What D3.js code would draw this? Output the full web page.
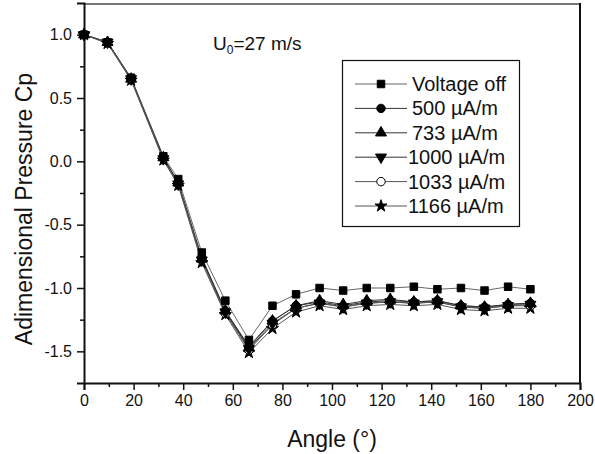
<!DOCTYPE html>
<html>
<head>
<meta charset="utf-8">
<script src="https://cdn.jsdelivr.net/npm/d3@7"></script>
<style>
  body { margin: 0; background: #fff; }
  text { font-family: "Liberation Sans", Arial, sans-serif; fill: #111; }
</style>
</head>
<body>
<div id="chart"></div>
<script>
const angles = [0, 9.5, 19, 32, 38, 47.5, 57, 66.5, 76, 85.5, 95, 104.5, 114, 123.5, 133, 142.5, 152, 161.5, 171, 180];

const voltageOff = [1.0, 0.94, 0.66, 0.04, -0.14, -0.72, -1.10, -1.41, -1.14, -1.05, -1.00, -1.02, -1.00, -1.00, -0.99, -1.01, -1.00, -1.02, -0.99, -1.01];
const cp500  = [1.0, 0.94, 0.65, 0.03, -0.17, -0.76, -1.18, -1.46, -1.26, -1.14, -1.11, -1.14, -1.11, -1.10, -1.11, -1.10, -1.14, -1.15, -1.13, -1.12];
const cp733  = [1.0, 0.94, 0.65, 0.03, -0.17, -0.77, -1.18, -1.47, -1.26, -1.14, -1.10, -1.13, -1.10, -1.09, -1.11, -1.10, -1.14, -1.15, -1.13, -1.12];
const cp1000 = [1.0, 0.94, 0.65, 0.02, -0.18, -0.78, -1.19, -1.48, -1.28, -1.16, -1.12, -1.15, -1.12, -1.11, -1.12, -1.11, -1.15, -1.16, -1.14, -1.13];
const cp1033 = [1.0, 0.94, 0.65, 0.02, -0.18, -0.78, -1.20, -1.49, -1.29, -1.16, -1.12, -1.15, -1.12, -1.11, -1.12, -1.11, -1.15, -1.16, -1.14, -1.14];
const cp1166 = [1.0, 0.93, 0.64, 0.01, -0.19, -0.80, -1.21, -1.51, -1.32, -1.19, -1.14, -1.17, -1.14, -1.13, -1.14, -1.13, -1.17, -1.18, -1.16, -1.16];

const seriesNames = ["Voltage off", "500 \u00b5A/m", "733 \u00b5A/m", "1000 \u00b5A/m", "1033 \u00b5A/m", "1166 \u00b5A/m"];
const xTicks = [0, 20, 40, 60, 80, 100, 120, 140, 160, 180, 200];
const yTicks = [-1.5, -1.0, -0.5, 0.0, 0.5, 1.0];

const width = 595, height = 454;
const plotL = 84, plotR = 580, plotT = 3, plotB = 383;

const svg = d3.select("#chart").append("svg")
  .attr("width", width).attr("height", height);

const x = d3.scaleLinear().domain([0, 200]).range([plotL, plotR]);
const y = d3.scaleLinear().domain([-1.75, 1.25]).range([plotB, plotT]);

// frame: top grey, right black
svg.append("line").attr("x1", plotL).attr("x2", plotR).attr("y1", plotT + 1).attr("y2", plotT + 1)
  .attr("stroke", "#777").attr("stroke-width", 2);
svg.append("line").attr("x1", plotR).attr("x2", plotR).attr("y1", plotT).attr("y2", plotB)
  .attr("stroke", "#111").attr("stroke-width", 2);

// axes
const xAxis = svg.append("g").attr("transform", `translate(0,${plotB})`)
  .call(d3.axisBottom(x).tickValues(xTicks).tickSize(7).tickPadding(5).tickFormat(d3.format("d")));
svg.append("g").attr("transform", `translate(0,${plotB})`)
  .call(d3.axisBottom(x).tickValues(d3.range(10, 200, 20)).tickSize(4).tickFormat(""))
  .call(g => g.select(".domain").remove());

const yAxis = svg.append("g").attr("transform", `translate(${plotL},0)`)
  .call(d3.axisLeft(y).tickValues(yTicks).tickSize(7).tickPadding(5).tickFormat(d3.format(".1f")));
svg.append("g").attr("transform", `translate(${plotL},0)`)
  .call(d3.axisLeft(y).tickValues([-1.25, -0.75, -0.25, 0.25, 0.75]).tickSize(4).tickFormat(""))
  .call(g => g.select(".domain").remove());

svg.selectAll(".domain").attr("stroke", "#111").attr("stroke-width", 2);
svg.selectAll(".tick line").attr("stroke", "#111").attr("stroke-width", 1.5);
svg.selectAll(".tick text").style("font-size", "16px")
  .style("font-family", "'Liberation Sans', Arial, sans-serif").attr("fill", "#111");
xAxis.selectAll(".tick text").text(d => d);
yAxis.selectAll(".tick text").text(d => d3.format(".1f")(d).replace("\u2212", "-"));

// titles
svg.append("text")
  .attr("x", (plotL + plotR) / 2).attr("y", 447).attr("text-anchor", "middle")
  .style("font-size", "23px").text("Angle (\u00b0)");
svg.append("text")
  .attr("transform", "rotate(-90)")
  .attr("x", -209).attr("y", 32).attr("text-anchor", "middle")
  .style("font-size", "23px").text("Adimensional Pressure Cp");

const u = svg.append("text").attr("x", 213).attr("y", 50).style("font-size", "19px");
u.append("tspan").text("U");
u.append("tspan").attr("dy", 4).style("font-size", "12px").text("0");
u.append("tspan").attr("dy", -4).text("=27 m/s");

// series
const series = [voltageOff, cp500, cp733, cp1000, cp1033, cp1166].map((vals, i) => ({
  name: seriesNames[i],
  points: angles.map((a, j) => ({ a, v: vals[j] }))
}));

const symbols = [
  { type: d3.symbolSquare, size: 56, fill: "#000", rot: 0 },
  { type: d3.symbolCircle, size: 56, fill: "#000", rot: 0 },
  { type: d3.symbolTriangle, size: 52, fill: "#000", rot: 0 },
  { type: d3.symbolTriangle, size: 52, fill: "#000", rot: 180 },
  { type: d3.symbolCircle, size: 56, fill: "#fff", rot: 0 },
  { type: d3.symbolStar, size: 45, fill: "#000", rot: 0 }
];
const lineColors = ["#666", "#333", "#333", "#333", "#555", "#555"];

const line = d3.line().x(d => x(d.a)).y(d => y(d.v));

series.forEach((s, i) => {
  svg.append("path").datum(s.points)
    .attr("fill", "none").attr("stroke", lineColors[i]).attr("stroke-width", 1)
    .attr("d", line);
});

series.slice().reverse().forEach((s, k) => {
  const i = series.length - 1 - k;
  const sym = symbols[i];
  svg.append("g").selectAll("path").data(s.points).join("path")
    .attr("transform", d => `translate(${x(d.a)},${y(d.v)}) rotate(${sym.rot})`)
    .attr("d", d3.symbol().type(sym.type).size(sym.size))
    .attr("fill", sym.fill).attr("stroke", "#000").attr("stroke-width", 1);
});

// legend
const legend = svg.append("g");
legend.append("rect")
  .attr("x", 342.5).attr("y", 60.5).attr("width", 177).attr("height", 166)
  .attr("fill", "#fff").attr("stroke", "#111").attr("stroke-width", 1.2);

series.forEach((s, i) => {
  const ly = 84 + i * 24.4;
  const sym = symbols[i];
  const row = legend.append("g");
  row.append("line").attr("x1", 355).attr("x2", 407).attr("y1", ly).attr("y2", ly)
    .attr("stroke", lineColors[i]).attr("stroke-width", 1);
  row.append("path")
    .attr("transform", `translate(381,${ly}) rotate(${sym.rot})`)
    .attr("d", d3.symbol().type(sym.type).size(sym.size))
    .attr("fill", sym.fill).attr("stroke", "#000").attr("stroke-width", 1);
  row.append("text").attr("x", i < 3 ? 412 : 408).attr("y", ly).attr("dy", "0.35em")
    .style("font-size", "20px").text(s.name);
});
</script>
</body>
</html>
